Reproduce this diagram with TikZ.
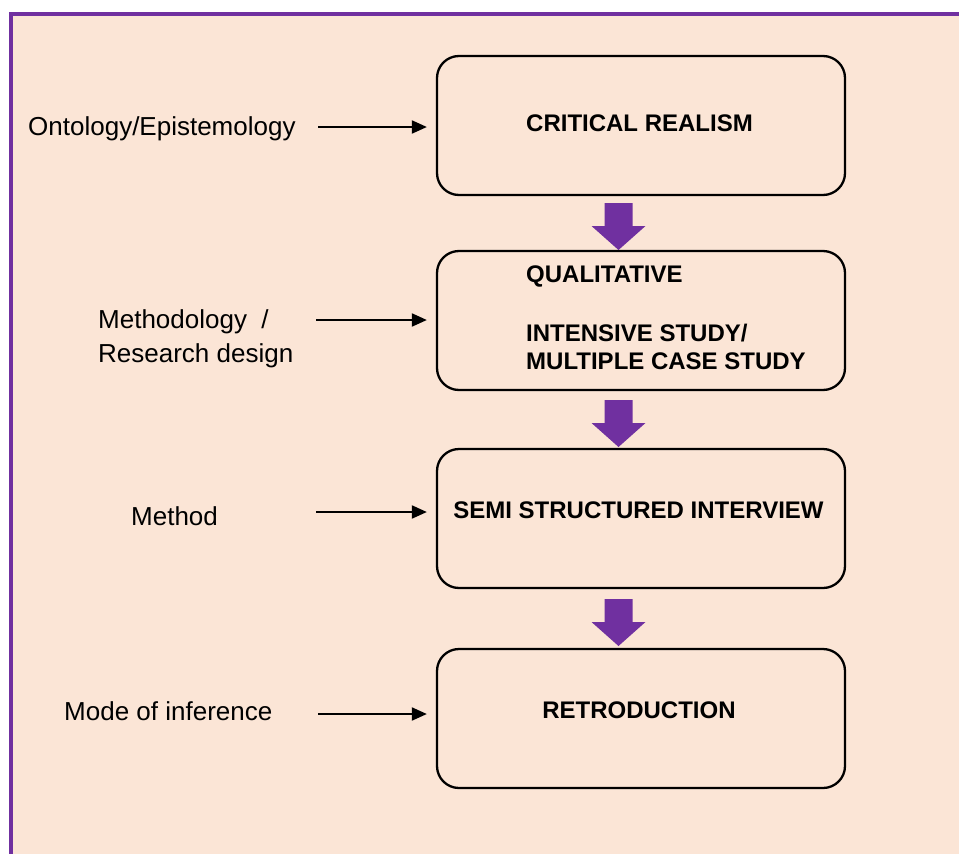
\documentclass[tikz,border=0pt]{standalone}
\usepackage{fontspec}
\setmainfont{Liberation Sans}
\usetikzlibrary{arrows.meta}
\definecolor{peach}{HTML}{FBE5D6}
\definecolor{framepurple}{HTML}{7030A0}
\begin{document}
\begin{tikzpicture}[x=1pt,y=-1pt,
  stagebox/.style={draw=black, line width=2.3pt, rounded corners=22pt,
    minimum width=408pt, minimum height=139pt, inner sep=0pt},
  stagetext/.style={font=\fontsize{24}{28}\selectfont\bfseries, inner sep=0pt},
  sidetext/.style={font=\fontsize{26}{35}\selectfont, inner sep=0pt, anchor=base west},
  link/.style={line width=2pt, -{Triangle[length=15pt,width=13pt]}, shorten >=9pt},
  blockarrow/.pic={\fill[framepurple] (-14,0) -- (14,0) -- (14,23) -- (27,23)
    -- (0,47) -- (-27,23) -- (-14,23) -- cycle;}
]
\useasboundingbox (0,0) rectangle (959,854);
% background panel with purple frame on top and left
\fill[peach] (10.5,14.3) rectangle (959,854);
\draw[framepurple, line width=4pt] (10.5,854) -- (10.5,14.3) -- (959,14.3);

% stage boxes
\node[stagebox] (box1) at (641,125.5) {};
\node[stagebox] (box2) at (641,320.5) {};
\node[stagebox] (box3) at (641,518.5) {};
\node[stagebox] (box4) at (641,718.5) {};

% box texts
\node[stagetext, anchor=base] (t1) at (639.5,131) {CRITICAL REALISM};
\node[stagetext, anchor=base west] (t2a) at (526,282) {QUALITATIVE};
\node[stagetext, anchor=base west] (t2b) at (526,341) {INTENSIVE STUDY/};
\node[stagetext, anchor=base west] (t2c) at (526,369) {MULTIPLE CASE STUDY};
\node[stagetext, anchor=base] (t3) at (638.5,518) {SEMI STRUCTURED INTERVIEW};
\node[stagetext, anchor=base] (t4) at (639,718) {RETRODUCTION};

% purple block arrows between stages
\pic at (618.5,203) {blockarrow};
\pic at (618.5,400) {blockarrow};
\pic at (618.5,599) {blockarrow};

% side labels
\node[sidetext] (l1) at (28,135) {Ontology/Epistemology};
\node[sidetext] (l2a) at (98,328) {Methodology\ \ /};
\node[sidetext] (l2b) at (98,362.5) {Research design};
\node[sidetext] (l3) at (131,525) {Method};
\node[sidetext] (l4) at (64,720.5) {Mode of inference};

% connectors from the labels to the boxes
\coordinate (s1) at (318,127);
\coordinate (s2) at (316,320);
\coordinate (s3) at (316,512);
\coordinate (s4) at (318,714);
\draw[link] (s1) -- (s1 -| box1.west);
\draw[link] (s2) -- (s2 -| box2.west);
\draw[link] (s3) -- (s3 -| box3.west);
\draw[link] (s4) -- (s4 -| box4.west);
\end{tikzpicture}
\end{document}
